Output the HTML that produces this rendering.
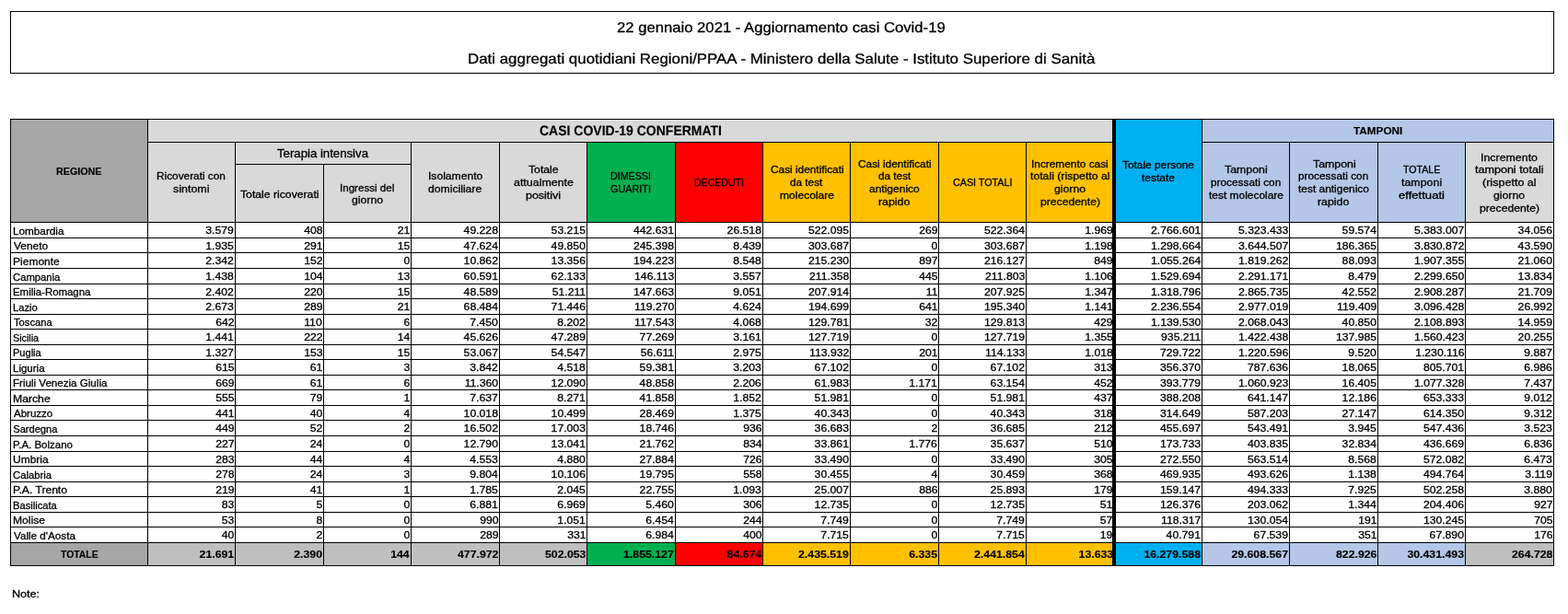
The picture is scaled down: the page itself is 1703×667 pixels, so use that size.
<!DOCTYPE html>
<html lang="it">
<head>
<meta charset="utf-8">
<title>22 gennaio 2021 - Aggiornamento casi Covid-19</title>
<style>
html,body{margin:0;padding:0;background:#fff}
body{position:relative;width:1703px;height:667px;overflow:hidden;font-family:"Liberation Sans",sans-serif;color:#000}
.title{position:absolute;left:11px;top:12px;width:1675px;height:66px;border:1px solid #000;background:#fefefe}
.sheet{position:absolute;left:11px;top:129px;width:1677px;height:486px;table-layout:fixed;border-collapse:separate;border-spacing:1px;background:#000;margin:0;padding:0;border:0}
.sheet th,.sheet td{position:relative;padding:0;margin:0;border:0;background:#fff;font-weight:normal;text-align:left;vertical-align:top;overflow:visible}
.ha>*{height:24px} .hb>*{height:23px} .hc>*{height:62px}
.a>*{height:15px} .b>*{height:16px} .tt>*{height:24px}
.sheet .k{background:#000}
.sheet .gd{background:#a6a6a6}
.sheet .gl{background:#d9d9d9}
.sheet .gt{background:#bfbfbf}
.sheet .gr{background:#00b050}
.sheet .rd{background:#ff0000}
.sheet .or{background:#ffc000}
.sheet .bl{background:#00b0f0}
.sheet .lb{background:#b4c7e7}
.t,.r{position:absolute;display:block;margin:0;padding:0;white-space:nowrap;font-weight:normal;line-height:20px;-webkit-text-stroke:0.3px #000}
.t{transform-origin:0 0}
.g{text-rendering:geometricPrecision}
.r{right:0.9px;top:-2px;font-size:11.1px;transform:scaleX(1.1);transform-origin:100% 0}
.e .r{right:-0.8px}
.tt .r{top:2px;font-size:11.2px;font-weight:bold;-webkit-text-stroke-width:0.15px}
.f0{font-size:15.5px}
.f1{font-size:11.2px;font-weight:bold;-webkit-text-stroke-width:0.15px}
.f2{font-size:15.2px;font-weight:bold;-webkit-text-stroke-width:0.15px}
.f3{font-size:10.8px}
.f4{font-size:12.3px}
.f5{font-size:11.1px}
.f6{font-size:11.0px}
</style>
</head>
<body>
<header class="title">
  <h1 class="t f0 g" style="left:657.96px;top:8px;transform:scaleX(1.0751)">22 gennaio 2021 - Aggiornamento casi Covid-19</h1>
  <h2 class="t f0 g" style="left:495.71px;top:42px;transform:scaleX(1.0897)">Dati aggregati quotidiani Regioni/PPAA - Ministero della Salute - Istituto Superiore di Sanità</h2>
</header>
<table class="sheet">
<colgroup>
  <col style="width:148px">
  <col style="width:94px">
  <col style="width:95px">
  <col style="width:94px">
  <col style="width:95px">
  <col style="width:94px">
  <col style="width:95px">
  <col style="width:94px">
  <col style="width:94px">
  <col style="width:95px">
  <col style="width:94px">
  <col style="width:93px">
  <col style="width:2px">
  <col style="width:93px">
  <col style="width:94px">
  <col style="width:95px">
  <col style="width:94px">
  <col style="width:95px">
</colgroup>
<thead>
<tr class="ha">
  <th rowspan="3" scope="col" class="gd"><span class="t f1" style="left:49.13px;top:46px;transform:scaleX(0.9574)">REGIONE</span></th>
  <th colspan="11" scope="colgroup" class="gl"><span class="t f2 g" style="left:425.14px;top:3px;transform:scaleX(0.9213)">CASI COVID-19 CONFERMATI</span></th>
  <td rowspan="3" class="k"></td>
  <th rowspan="3" scope="col" class="bl"><span class="t f3" style="left:6.8px;top:39px;transform:scaleX(1.1007)">Totale persone</span> <span class="t f3" style="left:27.75px;top:53px;transform:scaleX(1.1094)">testate</span></th>
  <th colspan="4" scope="colgroup" class="lb"><span class="t f1" style="left:163.5px;top:2px;transform:scaleX(1.0520)">TAMPONI</span></th>
</tr>
<tr class="hb">
  <th rowspan="2" scope="col" class="gl"><span class="t f3" style="left:9.48px;top:26px;transform:scaleX(1.0955)">Ricoverati con</span> <span class="t f3" style="left:27.36px;top:40px;transform:scaleX(1.1552)">sintomi</span></th>
  <th colspan="2" scope="colgroup" class="gl"><span class="t f4" style="left:44.9px;top:2px;transform:scaleX(1.0724)">Terapia intensiva</span></th>
  <th rowspan="2" scope="col" class="gl"><span class="t f3" style="left:17.61px;top:26px;transform:scaleX(1.1227)">Isolamento</span> <span class="t f3" style="left:18.47px;top:40px;transform:scaleX(1.1275)">domiciliare</span></th>
  <th rowspan="2" scope="col" class="gl"><span class="t f3" style="left:30.9px;top:19px;transform:scaleX(1.1298)">Totale</span> <span class="t f3" style="left:14.61px;top:33px;transform:scaleX(1.1516)">attualmente</span> <span class="t f3" style="left:27.97px;top:47px;transform:scaleX(1.1531)">positivi</span></th>
  <th rowspan="2" scope="col" class="gr"><span class="t f3" style="left:25.11px;top:26px;transform:scaleX(0.9895)">DIMESSI</span> <span class="t f3" style="left:25.2px;top:40px;transform:scaleX(1.0024)">GUARITI</span></th>
  <th rowspan="2" scope="col" class="rd"><span class="t f3" style="left:20.12px;top:33px;transform:scaleX(0.9776)">DECEDUTI</span></th>
  <th rowspan="2" scope="col" class="or"><span class="t f3" style="left:7.55px;top:19px;transform:scaleX(1.0965)">Casi identificati</span> <span class="t f3" style="left:29.48px;top:33px;transform:scaleX(1.0884)">da test</span> <span class="t f3" style="left:17.69px;top:47px;transform:scaleX(1.1173)">molecolare</span></th>
  <th rowspan="2" scope="col" class="or"><span class="t f3" style="left:7.75px;top:13px;transform:scaleX(1.0965)">Casi identificati</span> <span class="t f3" style="left:29.68px;top:26px;transform:scaleX(1.0884)">da test</span> <span class="t f3" style="left:20.12px;top:40px;transform:scaleX(1.1118)">antigenico</span> <span class="t f3" style="left:30.18px;top:54px;transform:scaleX(1.1453)">rapido</span></th>
  <th rowspan="2" scope="col" class="or"><span class="t f3" style="left:14.95px;top:33px;transform:scaleX(0.9937)">CASI TOTALI</span></th>
  <th rowspan="2" scope="col" class="or"><span class="t f3" style="left:5.38px;top:13px;transform:scaleX(1.0987)">Incremento casi</span> <span class="t f3" style="left:4.45px;top:26px;transform:scaleX(1.1340)">totali (rispetto al</span> <span class="t f3" style="left:30.37px;top:40px;transform:scaleX(1.1356)">giorno</span> <span class="t f3" style="left:14.99px;top:54px;transform:scaleX(1.1274)">precedente)</span></th>
  <th rowspan="2" scope="col" class="lb"><span class="t f3" style="left:24px;top:19px;transform:scaleX(1.1429)">Tamponi</span> <span class="t f3" style="left:8.95px;top:33px;transform:scaleX(1.0949)">processati con</span> <span class="t f3" style="left:6.8px;top:47px;transform:scaleX(1.1052)">test molecolare</span></th>
  <th rowspan="2" scope="col" class="lb"><span class="t f3" style="left:24.5px;top:13px;transform:scaleX(1.1429)">Tamponi</span> <span class="t f3" style="left:9.45px;top:26px;transform:scaleX(1.0949)">processati con</span> <span class="t f3" style="left:9.25px;top:40px;transform:scaleX(1.1047)">test antigenico</span> <span class="t f3" style="left:30.18px;top:54px;transform:scaleX(1.1453)">rapido</span></th>
  <th rowspan="2" scope="col" class="lb"><span class="t f3" style="left:26.95px;top:19px;transform:scaleX(0.9840)">TOTALE</span> <span class="t f3" style="left:25.3px;top:33px;transform:scaleX(1.1497)">tamponi</span> <span class="t f3" style="left:22.15px;top:47px;transform:scaleX(1.2123)">effettuati</span></th>
  <th rowspan="2" scope="col" class="gl"><span class="t f3" style="left:16.24px;top:6px;transform:scaleX(1.1472)">Incremento</span> <span class="t f3" style="left:10.45px;top:19px;transform:scaleX(1.1624)">tamponi totali</span> <span class="t f3" style="left:18.27px;top:33px;transform:scaleX(1.1635)">(rispetto al</span> <span class="t f3" style="left:30.47px;top:47px;transform:scaleX(1.1356)">giorno</span> <span class="t f3" style="left:15.09px;top:61px;transform:scaleX(1.1274)">precedente)</span></th>
</tr>
<tr class="hc">
  <th scope="col" class="gl"><span class="t f3" style="left:5.1px;top:22px;transform:scaleX(1.1307)">Totale ricoverati</span></th>
  <th scope="col" class="gl"><span class="t f3" style="left:17.25px;top:15px;transform:scaleX(1.0722)">Ingressi del</span> <span class="t f3" style="left:29.97px;top:28px;transform:scaleX(1.1356)">giorno</span></th>
</tr>
</thead>
<tbody>
<tr class="b"><th scope="row"><span class="t f5" style="left:1.71px;top:-1px;transform:scaleX(1.0580)">Lombardia</span></th><td><span class="r">3.579</span></td><td><span class="r">408</span></td><td><span class="r">21</span></td><td><span class="r">49.228</span></td><td><span class="r">53.215</span></td><td><span class="r">442.631</span></td><td><span class="r">26.518</span></td><td><span class="r">522.095</span></td><td><span class="r">269</span></td><td><span class="r">522.364</span></td><td class="e"><span class="r">1.969</span></td><td class="k" rowspan="21"></td><td><span class="r">2.766.601</span></td><td><span class="r">5.323.433</span></td><td><span class="r">59.574</span></td><td><span class="r">5.383.007</span></td><td><span class="r">34.056</span></td></tr>
<tr class="a"><th scope="row"><span class="t f5" style="left:2.5px;top:-2px;transform:scaleX(1.0774)">Veneto</span></th><td><span class="r">1.935</span></td><td><span class="r">291</span></td><td><span class="r">15</span></td><td><span class="r">47.624</span></td><td><span class="r">49.850</span></td><td><span class="r">245.398</span></td><td><span class="r">8.439</span></td><td><span class="r">303.687</span></td><td><span class="r">0</span></td><td><span class="r">303.687</span></td><td class="e"><span class="r">1.198</span></td><td><span class="r">1.298.664</span></td><td><span class="r">3.644.507</span></td><td><span class="r">186.365</span></td><td><span class="r">3.830.872</span></td><td><span class="r">43.590</span></td></tr>
<tr class="b"><th scope="row"><span class="t f5" style="left:1.69px;top:-1px;transform:scaleX(1.0842)">Piemonte</span></th><td><span class="r">2.342</span></td><td><span class="r">152</span></td><td><span class="r">0</span></td><td><span class="r">10.862</span></td><td><span class="r">13.356</span></td><td><span class="r">194.223</span></td><td><span class="r">8.548</span></td><td><span class="r">215.230</span></td><td><span class="r">897</span></td><td><span class="r">216.127</span></td><td class="e"><span class="r">849</span></td><td><span class="r">1.055.264</span></td><td><span class="r">1.819.262</span></td><td><span class="r">88.093</span></td><td><span class="r">1.907.355</span></td><td><span class="r">21.060</span></td></tr>
<tr class="b"><th scope="row"><span class="t f5" style="left:1.99px;top:-1px;transform:scaleX(1.0159)">Campania</span></th><td><span class="r">1.438</span></td><td><span class="r">104</span></td><td><span class="r">13</span></td><td><span class="r">60.591</span></td><td><span class="r">62.133</span></td><td><span class="r">146.113</span></td><td><span class="r">3.557</span></td><td><span class="r">211.358</span></td><td><span class="r">445</span></td><td><span class="r">211.803</span></td><td class="e"><span class="r">1.106</span></td><td><span class="r">1.529.694</span></td><td><span class="r">2.291.171</span></td><td><span class="r">8.479</span></td><td><span class="r">2.299.650</span></td><td><span class="r">13.834</span></td></tr>
<tr class="a"><th scope="row"><span class="t f5" style="left:1.73px;top:-2px;transform:scaleX(1.0294)">Emilia-Romagna</span></th><td><span class="r">2.402</span></td><td><span class="r">220</span></td><td><span class="r">15</span></td><td><span class="r">48.589</span></td><td><span class="r">51.211</span></td><td><span class="r">147.663</span></td><td><span class="r">9.051</span></td><td><span class="r">207.914</span></td><td><span class="r">11</span></td><td><span class="r">207.925</span></td><td class="e"><span class="r">1.347</span></td><td><span class="r">1.318.796</span></td><td><span class="r">2.865.735</span></td><td><span class="r">42.552</span></td><td><span class="r">2.908.287</span></td><td><span class="r">21.709</span></td></tr>
<tr class="b"><th scope="row"><span class="t f5" style="left:1.74px;top:-1px;transform:scaleX(1.0118)">Lazio</span></th><td><span class="r">2.673</span></td><td><span class="r">289</span></td><td><span class="r">21</span></td><td><span class="r">68.484</span></td><td><span class="r">71.446</span></td><td><span class="r">119.270</span></td><td><span class="r">4.624</span></td><td><span class="r">194.699</span></td><td><span class="r">641</span></td><td><span class="r">195.340</span></td><td class="e"><span class="r">1.141</span></td><td><span class="r">2.236.554</span></td><td><span class="r">2.977.019</span></td><td><span class="r">119.409</span></td><td><span class="r">3.096.428</span></td><td><span class="r">26.992</span></td></tr>
<tr class="a"><th scope="row"><span class="t f5" style="left:2.5px;top:-2px;transform:scaleX(1.0072)">Toscana</span></th><td><span class="r">642</span></td><td><span class="r">110</span></td><td><span class="r">6</span></td><td><span class="r">7.450</span></td><td><span class="r">8.202</span></td><td><span class="r">117.543</span></td><td><span class="r">4.068</span></td><td><span class="r">129.781</span></td><td><span class="r">32</span></td><td><span class="r">129.813</span></td><td class="e"><span class="r">429</span></td><td><span class="r">1.139.530</span></td><td><span class="r">2.068.043</span></td><td><span class="r">40.850</span></td><td><span class="r">2.108.893</span></td><td><span class="r">14.959</span></td></tr>
<tr class="b"><th scope="row"><span class="t f5" style="left:2.26px;top:-1px;transform:scaleX(0.9655)">Sicilia</span></th><td><span class="r">1.441</span></td><td><span class="r">222</span></td><td><span class="r">14</span></td><td><span class="r">45.626</span></td><td><span class="r">47.289</span></td><td><span class="r">77.269</span></td><td><span class="r">3.161</span></td><td><span class="r">127.719</span></td><td><span class="r">0</span></td><td><span class="r">127.719</span></td><td class="e"><span class="r">1.355</span></td><td><span class="r">935.211</span></td><td><span class="r">1.422.438</span></td><td><span class="r">137.985</span></td><td><span class="r">1.560.423</span></td><td><span class="r">20.255</span></td></tr>
<tr class="a"><th scope="row"><span class="t f5" style="left:1.75px;top:-2px;transform:scaleX(0.9950)">Puglia</span></th><td><span class="r">1.327</span></td><td><span class="r">153</span></td><td><span class="r">15</span></td><td><span class="r">53.067</span></td><td><span class="r">54.547</span></td><td><span class="r">56.611</span></td><td><span class="r">2.975</span></td><td><span class="r">113.932</span></td><td><span class="r">201</span></td><td><span class="r">114.133</span></td><td class="e"><span class="r">1.018</span></td><td><span class="r">729.722</span></td><td><span class="r">1.220.596</span></td><td><span class="r">9.520</span></td><td><span class="r">1.230.116</span></td><td><span class="r">9.887</span></td></tr>
<tr class="b"><th scope="row"><span class="t f5" style="left:1.72px;top:-1px;transform:scaleX(1.0382)">Liguria</span></th><td><span class="r">615</span></td><td><span class="r">61</span></td><td><span class="r">3</span></td><td><span class="r">3.842</span></td><td><span class="r">4.518</span></td><td><span class="r">59.381</span></td><td><span class="r">3.203</span></td><td><span class="r">67.102</span></td><td><span class="r">0</span></td><td><span class="r">67.102</span></td><td class="e"><span class="r">313</span></td><td><span class="r">356.370</span></td><td><span class="r">787.636</span></td><td><span class="r">18.065</span></td><td><span class="r">805.701</span></td><td><span class="r">6.986</span></td></tr>
<tr class="a"><th scope="row"><span class="t f5" style="left:1.72px;top:-2px;transform:scaleX(1.0446)">Friuli Venezia Giulia</span></th><td><span class="r">669</span></td><td><span class="r">61</span></td><td><span class="r">6</span></td><td><span class="r">11.360</span></td><td><span class="r">12.090</span></td><td><span class="r">48.858</span></td><td><span class="r">2.206</span></td><td><span class="r">61.983</span></td><td><span class="r">1.171</span></td><td><span class="r">63.154</span></td><td class="e"><span class="r">452</span></td><td><span class="r">393.779</span></td><td><span class="r">1.060.923</span></td><td><span class="r">16.405</span></td><td><span class="r">1.077.328</span></td><td><span class="r">7.437</span></td></tr>
<tr class="b"><th scope="row"><span class="t f5" style="left:1.67px;top:-1px;transform:scaleX(1.1000)">Marche</span></th><td><span class="r">555</span></td><td><span class="r">79</span></td><td><span class="r">1</span></td><td><span class="r">7.637</span></td><td><span class="r">8.271</span></td><td><span class="r">41.858</span></td><td><span class="r">1.852</span></td><td><span class="r">51.981</span></td><td><span class="r">0</span></td><td><span class="r">51.981</span></td><td class="e"><span class="r">437</span></td><td><span class="r">388.208</span></td><td><span class="r">641.147</span></td><td><span class="r">12.186</span></td><td><span class="r">653.333</span></td><td><span class="r">9.012</span></td></tr>
<tr class="a"><th scope="row"><span class="t f5" style="left:2.5px;top:-2px;transform:scaleX(1.0385)">Abruzzo</span></th><td><span class="r">441</span></td><td><span class="r">40</span></td><td><span class="r">4</span></td><td><span class="r">10.018</span></td><td><span class="r">10.499</span></td><td><span class="r">28.469</span></td><td><span class="r">1.375</span></td><td><span class="r">40.343</span></td><td><span class="r">0</span></td><td><span class="r">40.343</span></td><td class="e"><span class="r">318</span></td><td><span class="r">314.649</span></td><td><span class="r">587.203</span></td><td><span class="r">27.147</span></td><td><span class="r">614.350</span></td><td><span class="r">9.312</span></td></tr>
<tr class="b"><th scope="row"><span class="t f5" style="left:2.25px;top:-1px;transform:scaleX(1.0000)">Sardegna</span></th><td><span class="r">449</span></td><td><span class="r">52</span></td><td><span class="r">2</span></td><td><span class="r">16.502</span></td><td><span class="r">17.003</span></td><td><span class="r">18.746</span></td><td><span class="r">936</span></td><td><span class="r">36.683</span></td><td><span class="r">2</span></td><td><span class="r">36.685</span></td><td class="e"><span class="r">212</span></td><td><span class="r">455.697</span></td><td><span class="r">543.491</span></td><td><span class="r">3.945</span></td><td><span class="r">547.436</span></td><td><span class="r">3.523</span></td></tr>
<tr class="b"><th scope="row"><span class="t f5" style="left:1.72px;top:-1px;transform:scaleX(1.0364)">P.A. Bolzano</span></th><td><span class="r">227</span></td><td><span class="r">24</span></td><td><span class="r">0</span></td><td><span class="r">12.790</span></td><td><span class="r">13.041</span></td><td><span class="r">21.762</span></td><td><span class="r">834</span></td><td><span class="r">33.861</span></td><td><span class="r">1.776</span></td><td><span class="r">35.637</span></td><td class="e"><span class="r">510</span></td><td><span class="r">173.733</span></td><td><span class="r">403.835</span></td><td><span class="r">32.834</span></td><td><span class="r">436.669</span></td><td><span class="r">6.836</span></td></tr>
<tr class="a"><th scope="row"><span class="t f5" style="left:1.69px;top:-2px;transform:scaleX(1.0809)">Umbria</span></th><td><span class="r">283</span></td><td><span class="r">44</span></td><td><span class="r">4</span></td><td><span class="r">4.553</span></td><td><span class="r">4.880</span></td><td><span class="r">27.884</span></td><td><span class="r">726</span></td><td><span class="r">33.490</span></td><td><span class="r">0</span></td><td><span class="r">33.490</span></td><td class="e"><span class="r">305</span></td><td><span class="r">272.550</span></td><td><span class="r">563.514</span></td><td><span class="r">8.568</span></td><td><span class="r">572.082</span></td><td><span class="r">6.473</span></td></tr>
<tr class="b"><th scope="row"><span class="t f5" style="left:1.99px;top:-1px;transform:scaleX(1.0195)">Calabria</span></th><td><span class="r">278</span></td><td><span class="r">24</span></td><td><span class="r">3</span></td><td><span class="r">9.804</span></td><td><span class="r">10.106</span></td><td><span class="r">19.795</span></td><td><span class="r">558</span></td><td><span class="r">30.455</span></td><td><span class="r">4</span></td><td><span class="r">30.459</span></td><td class="e"><span class="r">368</span></td><td><span class="r">469.935</span></td><td><span class="r">493.626</span></td><td><span class="r">1.138</span></td><td><span class="r">494.764</span></td><td><span class="r">3.119</span></td></tr>
<tr class="a"><th scope="row"><span class="t f5" style="left:1.68px;top:-2px;transform:scaleX(1.0906)">P.A. Trento</span></th><td><span class="r">219</span></td><td><span class="r">41</span></td><td><span class="r">1</span></td><td><span class="r">1.785</span></td><td><span class="r">2.045</span></td><td><span class="r">22.755</span></td><td><span class="r">1.093</span></td><td><span class="r">25.007</span></td><td><span class="r">886</span></td><td><span class="r">25.893</span></td><td class="e"><span class="r">179</span></td><td><span class="r">159.147</span></td><td><span class="r">494.333</span></td><td><span class="r">7.925</span></td><td><span class="r">502.258</span></td><td><span class="r">3.880</span></td></tr>
<tr class="b"><th scope="row"><span class="t f5" style="left:1.74px;top:-1px;transform:scaleX(1.0074)">Basilicata</span></th><td><span class="r">83</span></td><td><span class="r">5</span></td><td><span class="r">0</span></td><td><span class="r">6.881</span></td><td><span class="r">6.969</span></td><td><span class="r">5.460</span></td><td><span class="r">306</span></td><td><span class="r">12.735</span></td><td><span class="r">0</span></td><td><span class="r">12.735</span></td><td class="e"><span class="r">51</span></td><td><span class="r">126.376</span></td><td><span class="r">203.062</span></td><td><span class="r">1.344</span></td><td><span class="r">204.406</span></td><td><span class="r">927</span></td></tr>
<tr class="a"><th scope="row"><span class="t f5" style="left:1.68px;top:-2px;transform:scaleX(1.0903)">Molise</span></th><td><span class="r">53</span></td><td><span class="r">8</span></td><td><span class="r">0</span></td><td><span class="r">990</span></td><td><span class="r">1.051</span></td><td><span class="r">6.454</span></td><td><span class="r">244</span></td><td><span class="r">7.749</span></td><td><span class="r">0</span></td><td><span class="r">7.749</span></td><td class="e"><span class="r">57</span></td><td><span class="r">118.317</span></td><td><span class="r">130.054</span></td><td><span class="r">191</span></td><td><span class="r">130.245</span></td><td><span class="r">705</span></td></tr>
<tr class="b"><th scope="row"><span class="t f5" style="left:2.5px;top:-1px;transform:scaleX(1.0525)">Valle d'Aosta</span></th><td><span class="r">40</span></td><td><span class="r">2</span></td><td><span class="r">0</span></td><td><span class="r">289</span></td><td><span class="r">331</span></td><td><span class="r">6.984</span></td><td><span class="r">400</span></td><td><span class="r">7.715</span></td><td><span class="r">0</span></td><td><span class="r">7.715</span></td><td class="e"><span class="r">19</span></td><td><span class="r">40.791</span></td><td><span class="r">67.539</span></td><td><span class="r">351</span></td><td><span class="r">67.890</span></td><td><span class="r">176</span></td></tr>
</tbody>
<tfoot>
<tr class="tt"><th scope="row" class="gd"><span class="t f1" style="left:54px;top:2px;transform:scaleX(0.9287)">TOTALE</span></th><td class="gt"><span class="r">21.691</span></td><td class="gt"><span class="r">2.390</span></td><td class="gt"><span class="r">144</span></td><td class="gt"><span class="r">477.972</span></td><td class="gt"><span class="r">502.053</span></td><td class="gr"><span class="r">1.855.127</span></td><td class="rd"><span class="r">84.674</span></td><td class="or"><span class="r">2.435.519</span></td><td class="or"><span class="r">6.335</span></td><td class="or"><span class="r">2.441.854</span></td><td class="or e"><span class="r">13.633</span></td><td class="k"></td><td class="bl"><span class="r">16.279.588</span></td><td class="lb"><span class="r">29.608.567</span></td><td class="lb"><span class="r">822.926</span></td><td class="lb"><span class="r">30.431.493</span></td><td class="gt"><span class="r">264.728</span></td></tr>
</tfoot>
</table>
<footer class="notes"><p class="t f6" style="left:13.24px;top:635px;transform:scaleX(1.1434)">Note:</p></footer>
</body>
</html>
